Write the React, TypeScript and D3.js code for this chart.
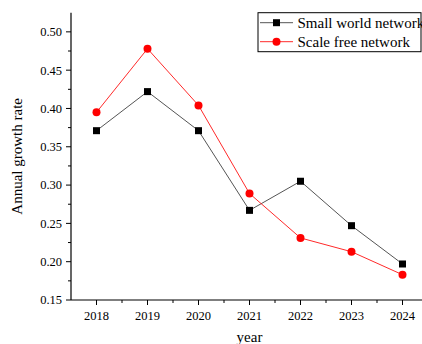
import React from "react";
import * as d3 from "d3";

const years = [2018, 2019, 2020, 2021, 2022, 2023, 2024];
const smallWorld = [0.371, 0.422, 0.371, 0.267, 0.305, 0.247, 0.197];
const scaleFree = [0.395, 0.478, 0.404, 0.289, 0.231, 0.213, 0.183];
const yTicks = [0.15, 0.2, 0.25, 0.3, 0.35, 0.4, 0.45, 0.5];
const yMinorTicks = [0.175, 0.225, 0.275, 0.325, 0.375, 0.425, 0.475];
const xMinorTicks = [2018.5, 2019.5, 2020.5, 2021.5, 2022.5, 2023.5];
const seriesNames = ["Small world network", "Scale free network"];

const W = 422;
const H = 344;
const left = 71;
const right = 428;
const top = 12.7;
const bottom = 300;
const FONT = "'Liberation Serif', 'Times New Roman', serif";
const textStyle = { fontFamily: FONT };

export default function App() {
  const x = d3.scaleLinear().domain([2017.5, 2024.5]).range([left, right]);
  const y = d3.scaleLinear().domain([0.15, 0.525]).range([bottom, top]);
  const line = d3
    .line<number>()
    .x((_, i) => x(years[i]))
    .y((d) => y(d));

  return (
    <svg
      width={W}
      height={H}
      style={{ position: "absolute", left: 0, top: 0, background: "#fff" }}
    >
      {/* series lines */}
      <path d={line(smallWorld) ?? ""} fill="none" stroke="#555" strokeWidth={1} />
      <path d={line(scaleFree) ?? ""} fill="none" stroke="#ff2a2a" strokeWidth={1} />
      {/* markers */}
      {smallWorld.map((v, i) => (
        <rect key={"s" + i} x={x(years[i]) - 3.5} y={y(v) - 3.5} width={7} height={7} fill="#000" />
      ))}
      {scaleFree.map((v, i) => (
        <circle key={"c" + i} cx={x(years[i])} cy={y(v)} r={4} fill="#ff0000" />
      ))}

      {/* y axis */}
      <line x1={left} x2={left} y1={top} y2={bottom} stroke="#000" strokeWidth={1.2} />
      {yTicks.map((t) => (
        <g key={"yt" + t}>
          <line x1={left - 5} x2={left} y1={y(t)} y2={y(t)} stroke="#000" strokeWidth={1} />
          <text x={left - 9} y={y(t)} dy="0.35em" textAnchor="end" fontSize={12.5} fill="#000" style={textStyle}>
            {t.toFixed(2)}
          </text>
        </g>
      ))}
      {yMinorTicks.map((t) => (
        <line key={"ym" + t} x1={left - 3} x2={left} y1={y(t)} y2={y(t)} stroke="#000" strokeWidth={1} />
      ))}

      {/* x axis */}
      <line x1={left} x2={right} y1={bottom} y2={bottom} stroke="#000" strokeWidth={1.2} />
      {years.map((t) => (
        <g key={"xt" + t}>
          <line x1={x(t)} x2={x(t)} y1={bottom} y2={bottom + 5} stroke="#000" strokeWidth={1} />
          <text x={x(t)} y={bottom + 20} textAnchor="middle" fontSize={12.5} fill="#000" style={textStyle}>
            {t}
          </text>
        </g>
      ))}
      {xMinorTicks.map((t) => (
        <line key={"xm" + t} x1={x(t)} x2={x(t)} y1={bottom} y2={bottom + 3} stroke="#000" strokeWidth={1} />
      ))}

      {/* axis titles */}
      <text x={(left + right) / 2} y={342} textAnchor="middle" fontSize={15} fill="#000" style={textStyle}>
        year
      </text>
      <text
        transform={`translate(22, ${(top + bottom) / 2}) rotate(-90)`}
        textAnchor="middle"
        fontSize={15}
        fill="#000"
        style={textStyle}
      >
        Annual growth rate
      </text>

      {/* legend */}
      <rect x={258} y={12.7} width={163} height={39} fill="#fff" stroke="#000" strokeWidth={1} />
      <g>
        <line x1={260} x2={293} y1={22.7} y2={22.7} stroke="#555" strokeWidth={1} />
        <rect x={276.5 - 3.5} y={22.7 - 3.5} width={7} height={7} fill="#000" />
        <text x={297.5} y={27.5} fontSize={15} fill="#000" style={textStyle}>
          {seriesNames[0]}
        </text>
      </g>
      <g>
        <line x1={260} x2={293} y1={41.7} y2={41.7} stroke="#ff2a2a" strokeWidth={1} />
        <circle cx={276.5} cy={41.7} r={4} fill="#ff0000" />
        <text x={297.5} y={46.5} fontSize={15} fill="#000" style={textStyle}>
          {seriesNames[1]}
        </text>
      </g>
    </svg>
  );
}
